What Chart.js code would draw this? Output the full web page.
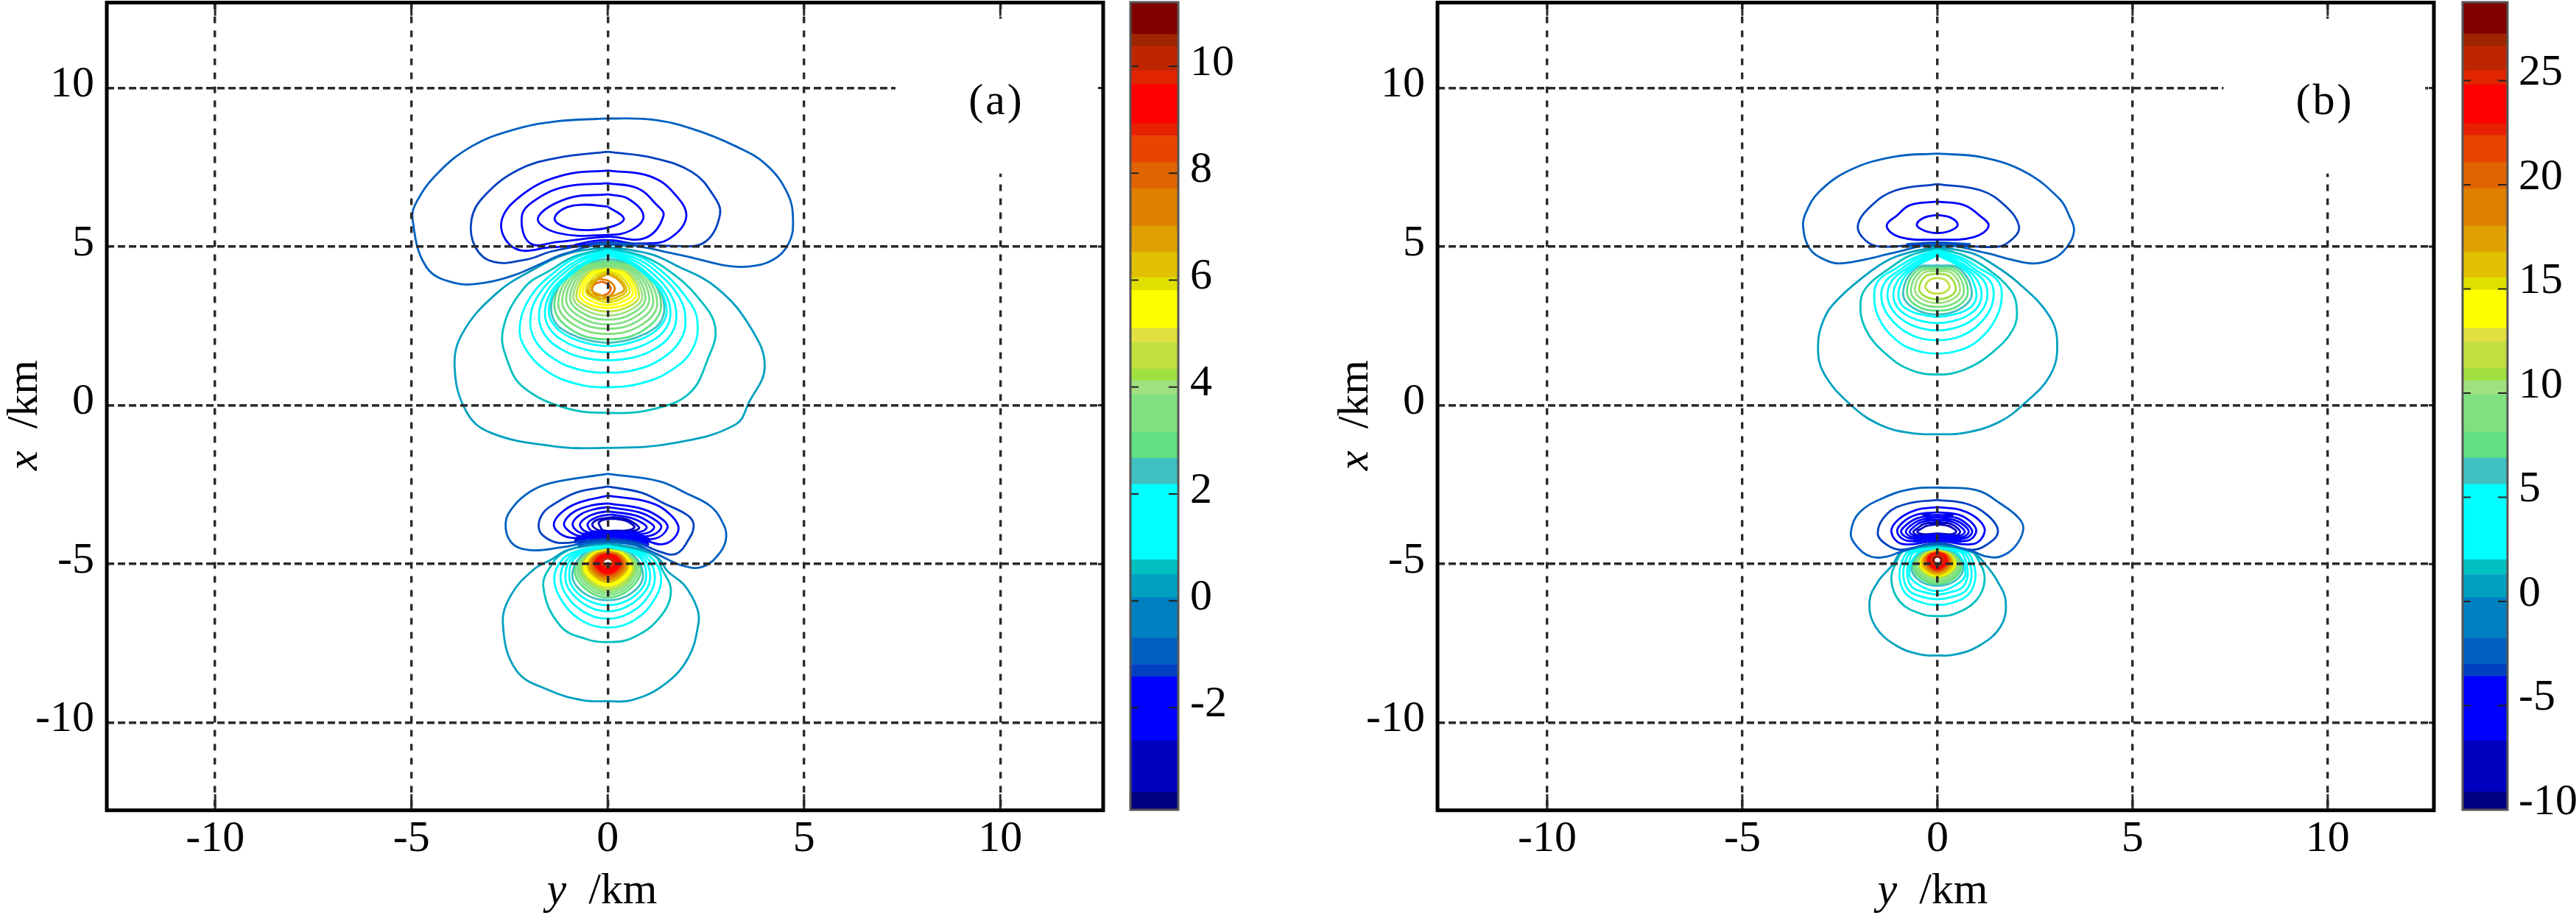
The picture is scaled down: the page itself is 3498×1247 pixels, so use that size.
<!DOCTYPE html>
<html>
<head>
<meta charset="utf-8">
<title>contours</title>
<script src="https://cdn.jsdelivr.net/npm/chart.js@4/dist/chart.umd.js"></script>
<style>
  html, body { margin: 0; padding: 0; background: #fff; }
  canvas { position: absolute; top: 0; }
</style>
</head>
<body>
<canvas id="panelA" width="1520" height="1247" style="left:0"></canvas>
<canvas id="barA" width="175" height="1247" style="left:1520px"></canvas>
<canvas id="panelB" width="1635" height="1247" style="left:1700px"></canvas>
<canvas id="barB" width="169" height="1247" style="left:3329px"></canvas>
<script>
// colour bar, same colours on both panels, edges
const bandColors = ['#000080','#0000C0','#0000FF','#0040C0','#0060C0','#0080C0','#00A0C0','#00C0C0','#00FFFF','#40C0C0',
  '#60E080','#80E080','#A0E080','#A0E040','#C0E040','#E0E040','#FFFF00','#E0E000','#E0C000','#E0A000',
  '#E08000','#E06400','#E84500','#E62000','#FF0000','#E02500','#BF2600','#9E2500','#800000'];
const aEdges = [-3.91,-3.58,-2.62,-1.42,-1.19,-.7,.06,.49,.77,2.18,2.67,3.15,3.86,4.12,4.34,4.83,5.1,5.81,6.05,6.52,7.01,7.71,8.2,8.7,8.93,9.66,9.92,10.37,10.6,11.2];
const bEdges = [-10,-9.15,-6.68,-3.6,-3.02,-1.77,.18,1.29,2.01,5.62,6.89,8.13,9.93,10.6,11.18,12.44,13.11,14.95,15.55,16.77,18.02,19.82,21.06,22.37,22.93,24.8,25.48,26.64,27.24,28.76];

// axis ticks
const planeTicks = [-10,-5,0,5,10];
const aBarTicks = [-2,0,2,4,6,8,10];
const bBarTicks = [-10,-5,0,5,10,15,20,25];

// contours are flat lists y,x,y,x... in km, closed loops
const aUpperNegLevels = [-1.0,-1.3,-1.7,-1.9,-2.1,-2.3];
const aUpperNeg = [
 [0,9.04,1.15,9.0,2.16,8.71,3.25,8.17,4.03,7.59,4.58,6.68,4.72,5.85,4.61,5.1,4.19,4.57,3.56,4.37,3.02,4.4,2.16,4.65,1.38,4.86,.91,4.98,0,5.1,-1.11,4.77,-1.74,4.44,-2.36,4.11,-3.14,3.86,-3.92,3.86,-4.62,4.36,-4.97,5.85,-4.86,6.43,-4.31,7.34,-3.45,8.17,-2.44,8.67,-1.35,8.94],
 [0,7.99,1.15,7.8,2.16,7.34,2.7,6.6,2.86,6.01,2.47,5.14,1.69,5.02,.6,5.1,-.5,5.05,-1.43,4.85,-2.05,4.6,-2.91,4.52,-3.37,4.98,-3.47,5.85,-3.14,6.6,-2.28,7.42,-1.27,7.8],
 [0,7.4,1.07,7.22,1.69,6.68,2.0,5.93,1.54,5.23,.91,5.1,-.3,5.08,-1.43,4.98,-2.36,4.94,-2.71,5.77,-2.13,6.68,-1.11,7.26],
 [0,7.0,.76,6.84,1.22,6.35,1.42,5.97,.95,5.27,0,5.31,-1.27,5.15,-1.97,5.1,-2.19,5.93,-1.89,6.43,-1.11,6.88],
 [0,6.65,.52,6.51,.91,5.97,.6,5.52,0,5.37,-1.27,5.43,-1.78,5.89,-1.04,6.51],
 [0,6.26,.41,5.89,.13,5.64,-.49,5.52,-1.04,5.6,-1.35,5.85,-1.15,6.18,-.65,6.32]
];
const aUpperBandLevels = [-1.6,-1.3,-.7];
const aUpperBands = [
 [-.85,5.05,-.35,5.18,.1,5.2,.6,5.1],
 [-.75,5.0,-.3,5.12,.15,5.13,.6,5.05],
 [-.7,4.98,0,5.07,.6,5.0]
];
const aUpperPosLevels = [.3,.6,1.0,1.3,1.6,1.9,2.1,2.4,2.9,3.2,3.4,3.6,3.8,4.0,4.5,5.3,5.6,5.9,6.3,6.8,7.4,8];
const aUpperPos = [
 [0,5.0,1.07,4.77,1.69,4.44,2.78,3.7,3.64,2.45,4.0,1.21,3.6,.1,3.25,-.61,1.69,-1.19,0,-1.34,-1.43,-1.28,-2.99,-.86,-3.6,-.2,-3.9,1.21,-3.69,2.29,-2.83,3.53,-1.89,4.28,-1.04,4.77],
 [0,4.95,.91,4.69,1.61,4.19,2.3,3.4,2.74,2.45,2.55,1.46,2.08,.38,1.15,-.12,0,-.24,-1.11,-.07,-2.13,.55,-2.52,1.29,-2.67,2.37,-2.13,3.7,-1.43,4.28,-.85,4.69],
 [0,4.9,.8,4.68,1.4,4.2,2.0,3.4,2.28,2.7,2.15,1.75,1.55,1.05,.8,.68,0,.57,-.8,.68,-1.55,1.08,-2.1,1.8,-2.24,2.5,-1.95,3.45,-1.35,4.2,-.75,4.68],
 [0,4.86,.7,4.64,1.25,4.2,1.8,3.45,1.98,2.75,1.85,2.05,1.35,1.45,.7,1.12,0,1.03,-.7,1.12,-1.35,1.45,-1.85,2.05,-1.97,2.75,-1.75,3.5,-1.2,4.2,-.65,4.64],
 [0,4.82,.62,4.6,1.12,4.18,1.6,3.5,1.75,2.85,1.62,2.25,1.2,1.78,.62,1.5,0,1.42,-.62,1.5,-1.2,1.78,-1.62,2.25,-1.75,2.85,-1.57,3.55,-1.1,4.18,-.6,4.6],
 [0,4.78,.55,4.56,1.02,4.14,1.45,3.55,1.6,2.95,1.48,2.42,1.08,2.0,.55,1.75,0,1.67,-.55,1.75,-1.08,2.0,-1.48,2.42,-1.6,2.95,-1.43,3.6,-1.0,4.14,-.52,4.56],
 [0,4.72,.5,4.52,.95,4.12,1.35,3.6,1.5,3.0,1.38,2.55,1.0,2.17,.5,1.95,0,1.87,-.5,1.95,-1.0,2.17,-1.38,2.55,-1.5,3.0,-1.35,3.62,-.93,4.12,-.48,4.52],
 [0,4.62,.55,4.48,1.0,4.08,1.35,3.55,1.44,3.0,1.3,2.55,.95,2.25,.5,2.05,0,1.97,-.5,2.05,-.95,2.25,-1.3,2.55,-1.44,3.0,-1.35,3.55,-1.0,4.08,-.55,4.48],
 [0,4.55,.85,4.32,1.36,3.2,.95,2.4,0,2.08,-.95,2.4,-1.36,3.2,-.85,4.32],
 [0,4.5,.78,4.3,1.26,3.25,.88,2.55,0,2.25,-.88,2.55,-1.26,3.25,-.78,4.3],
 [0,4.45,.72,4.27,1.16,3.3,.8,2.68,0,2.41,-.8,2.68,-1.16,3.3,-.72,4.27],
 [0,4.42,.66,4.25,1.06,3.35,.72,2.8,0,2.55,-.72,2.8,-1.06,3.35,-.66,4.25],
 [0,4.4,.6,4.23,.96,3.4,.66,2.92,0,2.7,-.66,2.92,-.96,3.4,-.6,4.23],
 [0,4.38,.55,4.2,.88,3.42,.6,3.02,0,2.83,-.6,3.02,-.88,3.42,-.55,4.2],
 [0,4.36,.5,4.18,.8,3.45,.55,3.12,0,2.95,-.55,3.12,-.8,3.45,-.5,4.18],
 [0,4.33,.45,4.14,.72,3.5,.5,3.2,0,3.07,-.5,3.2,-.72,3.5,-.45,4.14],
 [0,4.3,.4,4.1,.64,3.55,.44,3.3,0,3.16,-.44,3.3,-.64,3.55,-.4,4.1],
 [0,4.26,.35,4.05,.56,3.6,.38,3.38,0,3.25,-.38,3.38,-.56,3.6,-.35,4.05],
 [0,4.2,.3,4.0,.48,3.63,.33,3.45,0,3.33,-.33,3.45,-.48,3.63,-.3,4.0],
 [0,4.14,.27,3.95,.42,3.65,.28,3.52,0,3.42,-.28,3.52,-.42,3.65,-.27,3.95],
 [-.18,3.98,.05,3.9,.18,3.68,.05,3.45,-.18,3.36,-.42,3.45,-.53,3.68,-.42,3.9],
 [-.15,3.9,0,3.82,.08,3.68,0,3.52,-.15,3.46,-.33,3.52,-.4,3.68,-.33,3.82]
];
const aLowerNegLevels = [-1.0,-1.3,-1.6,-1.8,-2.0,-2.2,-2.4,-2.7,-3.0];
const aLowerNeg = [
 [0,-2.16,1.3,-2.39,2.05,-2.8,2.61,-3.17,2.9,-3.63,3.02,-4.13,2.86,-4.64,2.43,-5.08,1.93,-5.06,1.24,-4.68,.7,-4.4,0,-4.3,-.6,-4.35,-1.2,-4.48,-2.01,-4.56,-2.45,-4.33,-2.6,-3.71,-2.39,-3.17,-1.95,-2.7,-1.43,-2.44],
 [0,-2.56,.85,-2.75,1.43,-3.09,2.05,-3.48,2.19,-3.79,2.05,-4.25,1.74,-4.68,1.3,-4.6,.7,-4.3,0,-4.22,-.6,-4.27,-1.26,-4.33,-1.65,-4.1,-1.76,-3.79,-1.65,-3.4,-1.39,-3.13,-.8,-2.75],
 [0,-2.85,1.05,-3.05,1.6,-3.45,1.8,-3.94,1.43,-4.37,.8,-4.2,0,-4.14,-.95,-4.17,-1.3,-3.95,-1.36,-3.67,-1.1,-3.3,-.7,-3.05],
 [0,-3.09,.9,-3.27,1.4,-3.6,1.52,-3.87,1.2,-4.2,.6,-4.13,0,-4.1,-.7,-4.12,-1.0,-3.95,-1.11,-3.7,-.85,-3.35,-.4,-3.15],
 [0,-3.21,.8,-3.37,1.25,-3.65,1.36,-3.87,1.05,-4.12,.55,-4.06,0,-4.03,-.6,-4.05,-.82,-3.92,-.89,-3.7,-.68,-3.43,-.33,-3.27],
 [0,-3.34,.7,-3.47,1.08,-3.7,1.18,-3.87,.92,-4.05,.5,-4.02,0,-4.0,-.5,-4.0,-.65,-3.9,-.7,-3.72,-.52,-3.52,-.25,-3.39],
 [.1,-3.44,.6,-3.55,.9,-3.72,.99,-3.87,.78,-4.0,.4,-3.99,0,-3.98,-.4,-3.96,-.48,-3.87,-.51,-3.73,-.38,-3.58,-.15,-3.48],
 [.15,-3.52,.5,-3.6,.72,-3.75,.8,-3.87,.6,-3.97,.2,-3.96,-.2,-3.95,-.35,-3.85,-.39,-3.73,-.25,-3.6],
 [.15,-3.57,.45,-3.63,.62,-3.75,.68,-3.85,.5,-3.94,.2,-3.95,-.12,-3.94,-.2,-3.8,-.23,-3.7,-.1,-3.6]
];
const aLowerBandLevels = [-3.0,-2.7,-2.4,-2.0,-1.0,-.3];
const aLowerBands = [
 [-.85,-4.2,-.4,-4.02,.2,-4.0,.85,-4.1,1.1,-4.25],
 [-.85,-4.26,-.4,-4.1,.2,-4.08,.8,-4.18,1.05,-4.33],
 [-.85,-4.32,-.4,-4.16,.2,-4.14,.8,-4.24,1.05,-4.4],
 [-.8,-4.38,-.4,-4.22,.2,-4.2,.8,-4.3,1,-4.45],
 [-.75,-4.42,-.35,-4.28,.2,-4.26,.7,-4.35,.95,-4.5],
 [-.75,-4.46,-.3,-4.34,.2,-4.32,.7,-4.41,.9,-4.52]
];
const aLowerPosLevels = [.3,.6,1.0,1.3,1.6,1.9,2.4,2.9,3.4,3.8,4.2,4.7,5.4,5.7,6.2,6.8,7.5,8.0,8.5,9.3,9.3,9.3,9.3,9.8,10.2];
const aLowerPos = [
 [0,-4.33,.88,-4.55,1.3,-4.83,1.52,-5.22,1.96,-5.68,2.28,-6.4,2.31,-6.88,2.05,-7.96,1.43,-8.81,.61,-9.29,0,-9.32,-.64,-9.29,-1.51,-8.97,-2.33,-8.35,-2.67,-6.88,-2.45,-5.95,-1.89,-5.18,-1.45,-4.87,-1.01,-4.56],
 [0,-4.37,.8,-4.55,1.24,-4.79,1.36,-5.1,1.61,-5.87,1.3,-6.72,.61,-7.34,0,-7.46,-.51,-7.38,-1.2,-6.96,-1.64,-5.72,-1.39,-4.95,-1.07,-4.6,-.55,-4.42],
 [0,-4.4,.75,-4.58,1.15,-4.85,1.36,-5.4,1.22,-6.05,.7,-6.75,0,-7.0,-.7,-6.75,-1.22,-6.05,-1.36,-5.4,-1.15,-4.85,-.75,-4.58],
 [0,-4.42,.7,-4.6,1.05,-4.88,1.2,-5.4,1.07,-5.95,.62,-6.5,0,-6.72,-.62,-6.5,-1.07,-5.95,-1.2,-5.4,-1.05,-4.88,-.7,-4.6],
 [0,-4.44,.65,-4.62,.97,-4.9,1.08,-5.4,.96,-5.85,.55,-6.3,0,-6.49,-.55,-6.3,-.96,-5.85,-1.08,-5.4,-.97,-4.9,-.65,-4.62],
 [0,-4.45,.6,-4.62,.9,-4.92,.98,-5.4,.87,-5.77,.5,-6.15,0,-6.3,-.5,-6.15,-.87,-5.77,-.98,-5.4,-.9,-4.92,-.6,-4.62],
 [0,-4.47,.58,-4.65,.9,-5.35,.6,-5.92,0,-6.14,-.6,-5.92,-.9,-5.35,-.58,-4.65],
 [0,-4.47,.55,-4.62,.84,-5.2,.55,-5.8,0,-6.06,-.55,-5.8,-.84,-5.2,-.55,-4.62],
 [0,-4.47,.51,-4.62,.78,-5.18,.51,-5.73,0,-5.98,-.51,-5.73,-.78,-5.18,-.51,-4.62],
 [0,-4.48,.48,-4.63,.73,-5.15,.48,-5.66,0,-5.9,-.48,-5.66,-.73,-5.15,-.48,-4.63],
 [0,-4.48,.45,-4.63,.69,-5.12,.45,-5.6,0,-5.83,-.45,-5.6,-.69,-5.12,-.45,-4.63],
 [0,-4.49,.43,-4.64,.65,-5.1,.43,-5.54,0,-5.76,-.43,-5.54,-.65,-5.1,-.43,-4.64],
 [0,-4.5,.4,-4.65,.61,-5.08,.4,-5.49,0,-5.7,-.4,-5.49,-.61,-5.08,-.4,-4.65],
 [0,-4.52,.37,-4.66,.57,-5.06,.37,-5.44,0,-5.64,-.37,-5.44,-.57,-5.06,-.37,-4.66],
 [0,-4.54,.35,-4.67,.53,-5.04,.35,-5.4,0,-5.58,-.35,-5.4,-.53,-5.04,-.35,-4.67],
 [0,-4.56,.32,-4.68,.49,-5.02,.32,-5.36,0,-5.52,-.32,-5.36,-.49,-5.02,-.32,-4.68],
 [0,-4.58,.3,-4.69,.45,-5.0,.3,-5.32,0,-5.46,-.3,-5.32,-.45,-5.0,-.3,-4.69],
 [0,-4.6,.27,-4.7,.41,-5.0,.27,-5.28,0,-5.41,-.27,-5.28,-.41,-5.0,-.27,-4.7],
 [0,-4.62,.24,-4.72,.37,-4.98,.24,-5.24,0,-5.36,-.24,-5.24,-.37,-4.98,-.24,-4.72],
 [0,-4.65,.22,-4.74,.33,-4.98,.22,-5.2,0,-5.31,-.22,-5.2,-.33,-4.98,-.22,-4.74],
 [0,-4.68,.19,-4.76,.29,-4.97,.19,-5.16,0,-5.26,-.19,-5.16,-.29,-4.97,-.19,-4.76],
 [0,-4.71,.16,-4.78,.25,-4.96,.16,-5.13,0,-5.21,-.16,-5.13,-.25,-4.96,-.16,-4.78],
 [0,-4.74,.14,-4.8,.21,-4.95,.14,-5.1,0,-5.17,-.14,-5.1,-.21,-4.95,-.14,-4.8],
 [0,-4.78,.11,-4.83,.17,-4.95,.11,-5.07,0,-5.13,-.11,-5.07,-.17,-4.95,-.11,-4.83],
 [0,-4.82,.08,-4.86,.13,-4.95,.08,-5.04,0,-5.09,-.08,-5.04,-.13,-4.95,-.08,-4.86]
];

const bUpperNegLevels = [-2.5,-3.3,-4.5,-5.2];
const bUpperNeg = [
 [0,7.93,1.12,7.82,2.25,7.35,3.13,6.5,3.38,5.96,3.5,5.5,3.32,4.99,3.0,4.64,2.5,4.47,1.87,4.6,1.25,4.8,0,5.07,-1.14,4.8,-1.84,4.6,-2.53,4.47,-2.91,4.6,-3.28,4.95,-3.44,5.61,-3.38,6.04,-3.03,6.73,-2.21,7.43,-1.08,7.84],
 [0,6.97,1.12,6.77,1.75,6.27,2.09,5.65,1.94,5.26,1.5,4.99,0,5.11,-1.46,5.0,-1.84,5.19,-2.04,5.65,-1.71,6.27,-1.08,6.77],
 [0,6.42,.68,6.31,1.06,6.0,1.31,5.65,.93,5.3,0,5.22,-.96,5.3,-1.3,5.65,-1.02,6.0,-.7,6.31],
 [0,6.0,.33,5.92,.52,5.69,.33,5.5,0,5.43,-.33,5.5,-.53,5.69,-.33,5.92]
];
const bUpperBandLevels = [-2.5,-1.5];
const bUpperBands = [
 [-.8,5.08,0,5.13,.85,5.08],
 [-.8,5.0,0,5.03,.85,5.0]
];
const bUpperPosLevels = [.7,1.6,2.5,3.3,4.1,4.9,5.2,6.2,7.2,8.8,10.3,10.9,11.8];
const bUpperPos = [
 [0,5.0,.87,4.8,1.31,4.53,2.06,3.87,2.88,2.79,3.07,1.86,2.88,.93,2.25,.08,1.56,-.54,.68,-.87,0,-.91,-.7,-.87,-1.46,-.62,-2.21,0,-2.91,1.01,-3.06,1.86,-2.91,2.71,-2.59,3.29,-1.84,4.1,-1.27,4.57,-.77,4.8],
 [0,4.95,.68,4.72,1.25,4.33,1.87,3.64,2.03,3.1,1.94,2.4,1.37,1.63,.68,1.12,0,.97,-.7,1.12,-1.33,1.63,-1.84,2.4,-1.97,3.25,-1.77,3.79,-1.21,4.33,-.7,4.72],
 [0,4.9,.62,4.65,1.1,4.3,1.53,3.95,1.65,3.5,1.5,2.75,1.05,2.05,.55,1.73,0,1.63,-.55,1.73,-1.05,2.05,-1.5,2.75,-1.62,3.5,-1.5,3.95,-1.08,4.3,-.6,4.65],
 [0,4.86,.58,4.6,1.0,4.25,1.36,3.9,1.44,3.45,1.3,2.9,.92,2.4,.48,2.13,0,2.05,-.48,2.13,-.92,2.4,-1.3,2.9,-1.44,3.45,-1.33,3.9,-.98,4.25,-.55,4.6],
 [0,4.82,.52,4.55,.92,4.22,1.2,3.9,1.28,3.45,1.15,3.0,.82,2.63,.42,2.43,0,2.36,-.42,2.43,-.82,2.63,-1.15,3.0,-1.28,3.45,-1.18,3.9,-.9,4.22,-.5,4.55],
 [0,4.78,.48,4.5,.84,4.2,1.06,3.85,1.13,3.45,1.02,3.08,.73,2.8,.38,2.65,0,2.59,-.38,2.65,-.73,2.8,-1.02,3.08,-1.13,3.45,-1.05,3.85,-.82,4.2,-.46,4.5],
 [0,4.72,.44,4.47,.78,4.17,.94,3.82,1.0,3.45,.9,3.15,.65,2.95,.33,2.84,0,2.79,-.33,2.84,-.65,2.95,-.9,3.15,-1.0,3.45,-.94,3.82,-.76,4.17,-.42,4.47],
 [0,4.41,.55,4.32,.88,3.55,.62,3.07,0,2.86,-.62,3.07,-.88,3.55,-.55,4.32],
 [0,4.36,.5,4.27,.78,3.6,.55,3.15,0,2.98,-.55,3.15,-.78,3.6,-.5,4.27],
 [0,4.3,.44,4.22,.68,3.62,.48,3.25,0,3.1,-.48,3.25,-.68,3.62,-.44,4.22],
 [0,4.24,.38,4.15,.58,3.65,.4,3.35,0,3.22,-.4,3.35,-.58,3.65,-.38,4.15],
 [0,4.15,.3,4.07,.47,3.68,.33,3.44,0,3.34,-.33,3.44,-.47,3.68,-.3,4.07],
 [0,4.02,.2,3.95,.31,3.74,.2,3.57,0,3.52,-.2,3.57,-.31,3.74,-.2,3.95]
];
const bLowerNegLevels = [-2.5,-3.3,-4.2,-4.8,-5.3,-5.8,-6.3,-7,-7.5];
const bLowerNeg = [
 [0,-2.59,.99,-2.67,1.62,-3.1,2.09,-3.56,2.2,-3.91,1.99,-4.45,1.62,-4.76,1.24,-4.76,.89,-4.6,0,-4.37,-.9,-4.6,-1.28,-4.76,-1.72,-4.76,-2.09,-4.41,-2.22,-4.02,-2.0,-3.38,-1.28,-2.86,-.58,-2.62],
 [0,-2.98,.74,-3.1,1.3,-3.48,1.55,-3.99,1.24,-4.41,.86,-4.55,0,-4.33,-.9,-4.55,-1.28,-4.41,-1.53,-4.02,-1.28,-3.41,-.77,-3.1],
 [0,-3.21,.6,-3.3,1.05,-3.6,1.21,-3.99,.92,-4.37,0,-4.27,-.9,-4.37,-1.18,-3.99,-1.0,-3.6,-.55,-3.3],
 [0,-3.37,.55,-3.45,.88,-3.7,.99,-4.0,.75,-4.27,0,-4.2,-.77,-4.27,-1.03,-4.0,-.9,-3.7,-.55,-3.45],
 [0,-3.45,.5,-3.55,.78,-3.77,.89,-4.0,.68,-4.2,0,-4.14,-.68,-4.2,-.93,-4.0,-.8,-3.77,-.5,-3.55],
 [0,-3.52,.45,-3.62,.7,-3.8,.8,-4.0,.6,-4.16,0,-4.1,-.6,-4.16,-.81,-4.0,-.7,-3.8,-.45,-3.62],
 [0,-3.6,.4,-3.68,.62,-3.85,.7,-4.0,.52,-4.12,0,-4.08,-.52,-4.12,-.71,-4.0,-.62,-3.85,-.4,-3.68],
 [0,-3.68,.35,-3.74,.52,-3.88,.58,-4.0,.45,-4.1,0,-4.06,-.45,-4.1,-.62,-4.0,-.52,-3.88,-.35,-3.74],
 [0,-3.75,.28,-3.8,.43,-3.9,.48,-3.98,.37,-4.06,0,-4.04,-.37,-4.06,-.52,-3.98,-.43,-3.9,-.28,-3.8]
];
const bLowerBandLevels = [-8,-8,-8,-8,-8,-7,-5,-3];
const bLowerBands = [
 [-.42,-3.42,0,-3.47,.45,-3.42],
 [-.38,-3.5,0,-3.54,.4,-3.5],
 [-.32,-3.6,0,-3.63,.34,-3.6],
 [-.25,-3.7,0,-3.73,.27,-3.7],
 [-.6,-4.12,0,-4.09,.6,-4.12],
 [-.62,-4.18,0,-4.15,.62,-4.18],
 [-.62,-4.24,0,-4.21,.62,-4.24],
 [-.62,-4.3,0,-4.27,.62,-4.3]
];
const bLowerPosLevels = [.7,1.6,3,3.8,4.6,5.2,6.2,7.2,8.5,9.5,10.3,11,14,15.2,16,17.5,19,20.5,22,23.8,23.8,25,26,27.8];
const bLowerPos = [
 [0,-4.37,.89,-4.63,1.24,-5.03,1.55,-5.57,1.75,-6.19,1.62,-6.97,1.05,-7.59,.42,-7.86,0,-7.88,-.4,-7.86,-1.03,-7.59,-1.59,-6.97,-1.74,-6.19,-1.53,-5.57,-1.15,-5.03,-.9,-4.6],
 [0,-4.42,.83,-4.58,1.05,-4.88,1.21,-5.5,.99,-6.15,.42,-6.58,0,-6.64,-.4,-6.58,-.96,-6.19,-1.18,-5.5,-1.03,-4.88,-.84,-4.58],
 [0,-4.45,.72,-4.6,.9,-4.9,.97,-5.45,.8,-5.95,.38,-6.22,0,-6.29,-.38,-6.22,-.8,-5.95,-.97,-5.45,-.9,-4.9,-.72,-4.6],
 [0,-4.46,.65,-4.62,.82,-4.92,.87,-5.42,.72,-5.85,.34,-6.05,0,-6.11,-.34,-6.05,-.72,-5.85,-.87,-5.42,-.82,-4.92,-.65,-4.62],
 [0,-4.47,.58,-4.62,.73,-4.92,.77,-5.38,.64,-5.74,.3,-5.9,0,-5.96,-.3,-5.9,-.64,-5.74,-.77,-5.38,-.73,-4.92,-.58,-4.62],
 [0,-4.47,.5,-4.65,.72,-5.3,.47,-5.66,0,-5.85,-.47,-5.66,-.72,-5.3,-.5,-4.65],
 [0,-4.48,.46,-4.65,.67,-5.1,.46,-5.52,0,-5.69,-.46,-5.52,-.67,-5.1,-.46,-4.65],
 [0,-4.48,.43,-4.65,.62,-5.08,.43,-5.45,0,-5.64,-.43,-5.45,-.62,-5.08,-.43,-4.65],
 [0,-4.49,.4,-4.65,.58,-5.05,.4,-5.41,0,-5.59,-.4,-5.41,-.58,-5.05,-.4,-4.65],
 [0,-4.49,.38,-4.65,.55,-5.03,.38,-5.37,0,-5.54,-.38,-5.37,-.55,-5.03,-.38,-4.65],
 [0,-4.5,.36,-4.65,.52,-5.0,.36,-5.33,0,-5.49,-.36,-5.33,-.52,-5.0,-.36,-4.65],
 [0,-4.5,.34,-4.65,.5,-4.98,.34,-5.3,0,-5.44,-.34,-5.3,-.5,-4.98,-.34,-4.65],
 [0,-4.51,.32,-4.65,.47,-4.97,.32,-5.27,0,-5.41,-.32,-5.27,-.47,-4.97,-.32,-4.65],
 [0,-4.52,.3,-4.65,.44,-4.95,.3,-5.24,0,-5.38,-.3,-5.24,-.44,-4.95,-.3,-4.65],
 [0,-4.54,.28,-4.66,.41,-4.93,.28,-5.21,0,-5.35,-.28,-5.21,-.41,-4.93,-.28,-4.66],
 [0,-4.55,.26,-4.66,.38,-4.92,.26,-5.18,0,-5.32,-.26,-5.18,-.38,-4.92,-.26,-4.66],
 [0,-4.56,.24,-4.66,.35,-4.91,.24,-5.15,0,-5.29,-.24,-5.15,-.35,-4.91,-.24,-4.66],
 [0,-4.58,.22,-4.67,.32,-4.9,.22,-5.13,0,-5.26,-.22,-5.13,-.32,-4.9,-.22,-4.67],
 [0,-4.58,.2,-4.66,.29,-4.9,.2,-5.1,0,-5.22,-.2,-5.1,-.29,-4.9,-.2,-4.66],
 [0,-4.6,.18,-4.67,.26,-4.89,.18,-5.07,0,-5.18,-.18,-5.07,-.26,-4.89,-.18,-4.67],
 [0,-4.63,.15,-4.69,.22,-4.89,.15,-5.04,0,-5.14,-.15,-5.04,-.22,-4.89,-.15,-4.69],
 [0,-4.67,.12,-4.72,.18,-4.88,.12,-5.02,0,-5.1,-.12,-5.02,-.18,-4.88,-.12,-4.72],
 [0,-4.72,.1,-4.76,.14,-4.88,.1,-4.99,0,-5.05,-.1,-4.99,-.14,-4.88,-.1,-4.76],
 [0,-4.76,.07,-4.8,.1,-4.88,.07,-4.96,0,-5.0,-.07,-4.96,-.1,-4.88,-.07,-4.8]
];

Chart.defaults.font.family = '"Liberation Serif"';
Chart.defaults.color = '#000';
const TICK_FONT = { family: '"Liberation Serif"', size: 60 };
const GRID_COLOR = '#2a2a2a';
const GRID_WIDTH = 3.4;

function levelColor(level, edges) {
  let i = edges.findIndex(e => e > level) - 1;
  if (i < 0) i = 0;
  return bandColors[i];
}

function contourSets(paths, levels, edges, closed) {
  return paths.map((flat, i) => {
    const pts = [];
    for (let k = 0; k < flat.length; k += 2) pts.push({ x: flat[k], y: flat[k + 1] });
    if (closed) pts.push({ x: flat[0], y: flat[1] });
    return {
      data: pts,
      showLine: true,
      pointRadius: 0,
      borderWidth: 2.8,
      tension: 0.4,
      borderColor: levelColor(levels[i], edges)
    };
  });
}

// the tick labels must not push the plot area in, the box fills the canvas height
function noScalePadding(s) {
  s.paddingTop = 0;
  s.paddingBottom = 0;
  s.paddingLeft = 0;
  s.paddingRight = 0;
}

// white patch round the panel letter, then box, solid tick ends, letter and axis names
function framePlugin(letter, letterX) {
  return {
    id: 'frame',
    afterDraw(chart) {
      const { ctx, chartArea: a, scales: { x, y } } = chart;
      ctx.save();
      ctx.fillStyle = '#fff';
      ctx.fillRect(x.getPixelForValue(7.33), y.getPixelForValue(12.18), x.getPixelForValue(12.5) - x.getPixelForValue(7.33), y.getPixelForValue(7.3) - y.getPixelForValue(12.18));

      ctx.strokeStyle = GRID_COLOR;
      ctx.lineWidth = 3;
      ctx.beginPath();
      planeTicks.forEach(t => {
        const px = x.getPixelForValue(t);
        ctx.moveTo(px, a.top); ctx.lineTo(px, a.top + 18);
        ctx.moveTo(px, a.bottom - 22); ctx.lineTo(px, a.bottom);
        const py = y.getPixelForValue(t);
        ctx.moveTo(a.right - 7, py); ctx.lineTo(a.right, py);
      });
      ctx.stroke();

      ctx.strokeStyle = '#000';
      ctx.lineWidth = 5;
      ctx.strokeRect(a.left, a.top, a.right - a.left, a.bottom - a.top);

      ctx.fillStyle = '#000';
      ctx.textBaseline = 'alphabetic';
      ctx.textAlign = 'center';
      ctx.font = '60px "Liberation Serif"';
      ctx.letterSpacing = '3px';
      ctx.fillText(letter, letterX, 155);
      ctx.letterSpacing = '0px';

      axisName(ctx, 'y', (a.left + a.right) / 2 - 4, 1227);
      ctx.translate(a.left - 95, 564);
      ctx.rotate(-Math.PI / 2);
      axisName(ctx, 'x', 0, 0);
      ctx.restore();
    }
  };
}

function axisName(ctx, letter, cx, baseline) {
  const rest = ' /km';
  ctx.textAlign = 'left';
  ctx.font = 'italic 60px "Liberation Serif"';
  ctx.fillText(letter, cx - 75, baseline);
  ctx.font = '60px "Liberation Serif"';
  const w2 = ctx.measureText(rest).width;
  ctx.fillText(rest, cx + 75 - w2, baseline);
}

function barPlugin(ticks) {
  return {
    id: 'barFrame',
    afterDraw(chart) {
      const { ctx, chartArea: a, scales: { y } } = chart;
      ctx.save();
      ctx.strokeStyle = '#222';
      ctx.lineWidth = 2;
      ctx.beginPath();
      ticks.forEach(t => {
        const py = y.getPixelForValue(t);
        ctx.moveTo(a.left, py); ctx.lineTo(a.left + 11, py);
        ctx.moveTo(a.right - 13, py); ctx.lineTo(a.right, py);
      });
      ctx.stroke();
      ctx.strokeStyle = '#555';
      ctx.lineWidth = 3;
      ctx.strokeRect(a.left, a.top, a.right - a.left, a.bottom - a.top);
      ctx.restore();
    }
  };
}

function makePanel(id, sets, xMin, xMax, leftGap, rightGap, letter, letterX) {
  new Chart(document.getElementById(id), {
    type: 'scatter',
    data: { datasets: sets },
    options: {
      responsive: false,
      animation: false,
      devicePixelRatio: 1,
      layout: { autoPadding: false, padding: { top: 3.5, right: rightGap } },
      plugins: { legend: { display: false }, tooltip: { enabled: false } },
      scales: {
        x: {
          min: xMin, max: xMax,
          afterBuildTicks: s => { s.ticks = planeTicks.map(v => ({ value: v })); },
          afterFit: s => { s.height = 146.3; noScalePadding(s); },
          ticks: { font: TICK_FONT, padding: 4, maxRotation: 0, autoSkip: false, callback: v => String(v) },
          grid: { z: 1, color: GRID_COLOR, lineWidth: GRID_WIDTH, drawTicks: false },
          border: { display: false, dash: [9, 10] }
        },
        y: {
          min: -12.76, max: 12.69,
          afterBuildTicks: s => { s.ticks = planeTicks.map(v => ({ value: v })); },
          afterFit: s => { s.width = leftGap; noScalePadding(s); },
          ticks: { font: TICK_FONT, padding: 17, labelOffset: -4, autoSkip: false, callback: v => String(v) },
          grid: { z: 1, color: GRID_COLOR, lineWidth: GRID_WIDTH, drawTicks: false },
          border: { display: false, dash: [10, 5] }
        }
      }
    },
    plugins: [framePlugin(letter, letterX)]
  });
}

function makeBar(id, edges, ticks, tickPad, axisWidth, labelShift) {
  const sets = bandColors.map((c, i) => ({
    data: [[edges[i], edges[i + 1]]],
    backgroundColor: c,
    barPercentage: 1,
    categoryPercentage: 1
  }));
  new Chart(document.getElementById(id), {
    type: 'bar',
    data: { labels: [''], datasets: sets },
    options: {
      responsive: false,
      animation: false,
      devicePixelRatio: 1,
      layout: { autoPadding: false, padding: { left: 15, top: 3, bottom: 147 } },
      plugins: { legend: { display: false }, tooltip: { enabled: false } },
      scales: {
        x: { display: false, stacked: true },
        y: {
          position: 'right',
          min: edges[0], max: edges[edges.length - 1],
          afterBuildTicks: s => { s.ticks = ticks.map(v => ({ value: v })); },
          afterFit: s => { s.width = axisWidth; noScalePadding(s); },
          ticks: { font: TICK_FONT, padding: tickPad, labelOffset: labelShift, autoSkip: false, callback: v => String(v) },
          grid: { display: false, drawTicks: false },
          border: { display: false }
        }
      }
    },
    plugins: [barPlugin(ticks)]
  });
}

const setsA = [].concat(
  contourSets(aUpperNeg, aUpperNegLevels, aEdges, true),
  contourSets(aUpperBands, aUpperBandLevels, aEdges, false),
  contourSets(aUpperPos, aUpperPosLevels, aEdges, true),
  contourSets(aLowerNeg, aLowerNegLevels, aEdges, true),
  contourSets(aLowerBands, aLowerBandLevels, aEdges, false),
  contourSets(aLowerPos, aLowerPosLevels, aEdges, true)
);
const setsB = [].concat(
  contourSets(bUpperNeg, bUpperNegLevels, bEdges, true),
  contourSets(bUpperBands, bUpperBandLevels, bEdges, false),
  contourSets(bUpperPos, bUpperPosLevels, bEdges, true),
  contourSets(bLowerNeg, bLowerNegLevels, bEdges, true),
  contourSets(bLowerBands, bLowerBandLevels, bEdges, false),
  contourSets(bLowerPos, bLowerPosLevels, bEdges, true)
);

makePanel('panelA', setsA, -12.76, 12.62, 145, 22, '(a)', 1353);
makeBar('barA', aEdges, aBarTicks, 16, 95, -4);
makePanel('panelB', setsB, -12.81, 12.72, 252, 30, '(b)', 1457);
makeBar('barB', bEdges, bBarTicks, 15, 93, -10);
</script>
</body>
</html>
